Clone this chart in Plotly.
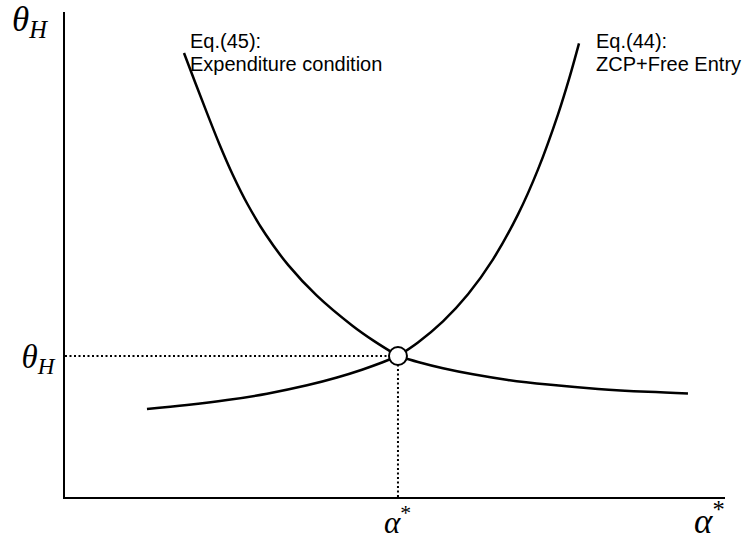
import plotly.graph_objects as go

# Equilibrium
alpha_star = 5.045
theta_star = 2.907

# Eq.(45): Expenditure condition (decreasing curve), left and right of equilibrium
eq45_alpha_left = [1.803, 1.977, 2.155, 2.338, 2.538, 2.768, 3.044, 3.383, 3.812, 4.355, 4.679, alpha_star]
eq45_theta_left = [9.155, 8.530, 7.905, 7.280, 6.656, 6.031, 5.406, 4.781, 4.157, 3.532, 3.219, theta_star]
eq45_alpha_right = [alpha_star, 5.348, 5.727, 6.182, 6.712, 7.318, 8.076, 8.833, 9.439]
eq45_theta_right = [theta_star, 2.784, 2.655, 2.530, 2.414, 2.318, 2.229, 2.169, 2.136]

# Eq.(44): ZCP + Free Entry (increasing curve), left and right of equilibrium
eq44_alpha_left = [1.242, 1.848, 2.455, 3.061, 3.667, 4.121, 4.500, 4.803, alpha_star]
eq44_theta_left = [1.814, 1.895, 1.998, 2.130, 2.303, 2.464, 2.625, 2.773, theta_star]
eq44_alpha_right = [alpha_star, 5.348, 5.727, 6.106, 6.485, 6.864, 7.167, 7.470, 7.652, 7.788]
eq44_theta_right = [theta_star, 3.186, 3.621, 4.180, 4.901, 5.827, 6.755, 7.891, 8.689, 9.353]

x_range = [0, 10]
y_range = [0, 10]

tick_font_y = dict(family="Liberation Serif", size=33, color="black")
tick_font_x = dict(family="Liberation Serif", size=31, color="black")
title_font_y = dict(family="Liberation Serif", size=35, color="black")
title_font_x = dict(family="Liberation Serif", size=35, color="black")
text_font = dict(family="Liberation Sans, Arial", size=20, color="black")

curve_line = dict(color="black", width=2.5, shape="spline", smoothing=1.0)
dot_line = dict(color="black", width=2, dash="2px,2.5px")

fig = go.Figure()

fig.add_trace(go.Scatter(x=[0, alpha_star], y=[theta_star, theta_star], mode="lines",
                         line=dot_line, hoverinfo="skip"))
fig.add_trace(go.Scatter(x=[alpha_star, alpha_star], y=[0, theta_star], mode="lines",
                         line=dot_line, hoverinfo="skip"))
for xs, ys in [(eq45_alpha_left, eq45_theta_left), (eq45_alpha_right, eq45_theta_right),
               (eq44_alpha_left, eq44_theta_left), (eq44_alpha_right, eq44_theta_right)]:
    fig.add_trace(go.Scatter(x=xs, y=ys, mode="lines", line=curve_line))
fig.add_trace(go.Scatter(x=[alpha_star], y=[theta_star], mode="markers",
                         marker=dict(symbol="circle", size=18, color="white",
                                     line=dict(color="black", width=2)), cliponaxis=False))

fig.update_layout(
    width=751, height=540,
    margin=dict(l=65, r=26, t=12, b=43),
    paper_bgcolor="white", plot_bgcolor="white",
    showlegend=False,
    xaxis=dict(range=x_range, showgrid=False, zeroline=False, showline=True,
               linecolor="black", linewidth=2, ticks="", automargin=False,
               showticklabels=False),
    yaxis=dict(range=y_range, showgrid=False, zeroline=False, showline=True,
               linecolor="black", linewidth=2, ticks="", automargin=False,
               tickvals=[theta_star], ticktext=["<i>θ</i><sub><i>H</i></sub>"],
               tickfont=tick_font_y, ticklabelstandoff=2),
    annotations=[
        dict(x=alpha_star, y=-0.048, xref="x", yref="paper", text="<i>α</i><sup>*</sup>",
             showarrow=False, font=tick_font_x, xanchor="center", yanchor="middle"),
        dict(x=-0.053, y=0.981, xref="paper", yref="paper", text="<i>θ</i><sub><i>H</i></sub>",
             showarrow=False, font=title_font_y, xanchor="center", yanchor="middle"),
        dict(x=0.976, y=-0.044, xref="paper", yref="paper", text="<i>α</i><sup>*</sup>",
             showarrow=False, font=title_font_x, xanchor="center", yanchor="middle"),
        dict(x=0.187, y=0.941, xref="paper", yref="paper", text="Eq.(45):",
             showarrow=False, font=text_font, xanchor="left", yanchor="middle"),
        dict(x=0.187, y=0.893, xref="paper", yref="paper", text="Expenditure condition",
             showarrow=False, font=text_font, xanchor="left", yanchor="middle"),
        dict(x=0.802, y=0.941, xref="paper", yref="paper", text="Eq.(44):",
             showarrow=False, font=text_font, xanchor="left", yanchor="middle"),
        dict(x=0.802, y=0.893, xref="paper", yref="paper", text="ZCP+Free Entry",
             showarrow=False, font=text_font, xanchor="left", yanchor="middle"),
    ],
)

fig.write_html("out.html", config={"displayModeBar": False},
               post_script="document.body.style.margin='0';")
